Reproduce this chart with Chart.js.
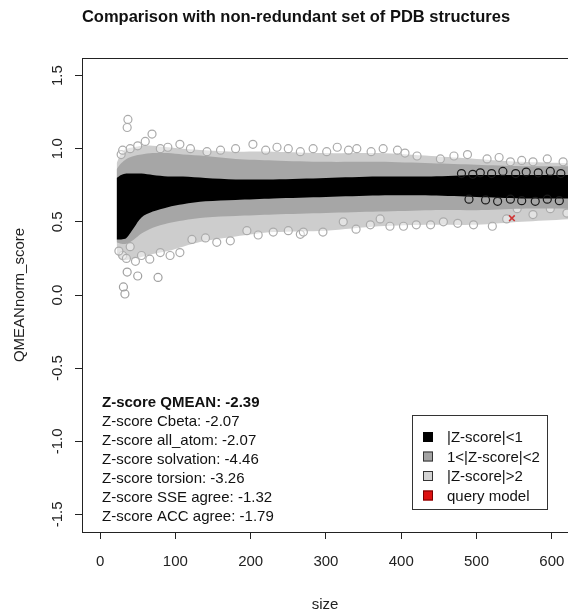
<!DOCTYPE html>
<html>
<head>
<meta charset="utf-8">
<script src="https://cdn.jsdelivr.net/npm/chart.js@4/dist/chart.umd.min.js"></script>
<style>
    html, body { margin: 0; padding: 0; background: #fff; overflow: hidden; }
    #wrap { width: 568px; height: 611px; }
</style>
</head>
<body>
<div id="wrap"><canvas id="qmeanChart" width="568" height="611"></canvas></div>
<script>
// Envelopes of the reference cloud (size -> QMEANnorm_score)
const sizeGrid = [22, 28, 35, 45, 55, 70, 90, 110, 140, 180, 230, 300, 370, 440, 500, 560, 630];
const outerHi  = [0.90, 0.97, 1.00, 1.01, 1.02, 1.02, 1.01, 1.00, 0.99, 0.98, 0.98, 0.97, 0.97, 0.95, 0.93, 0.91, 0.90];
const midHi    = [0.86, 0.90, 0.93, 0.95, 0.96, 0.97, 0.97, 0.96, 0.95, 0.93, 0.92, 0.91, 0.91, 0.90, 0.89, 0.88, 0.88];
const coreHi   = [0.80, 0.82, 0.83, 0.83, 0.83, 0.82, 0.81, 0.81, 0.80, 0.79, 0.79, 0.80, 0.81, 0.81, 0.82, 0.82, 0.82];
const coreLo   = [0.38, 0.38, 0.39, 0.46, 0.53, 0.57, 0.60, 0.62, 0.64, 0.65, 0.66, 0.67, 0.68, 0.68, 0.67, 0.66, 0.66];
const midLo    = [0.36, 0.35, 0.35, 0.38, 0.42, 0.46, 0.49, 0.51, 0.53, 0.54, 0.55, 0.56, 0.57, 0.58, 0.58, 0.59, 0.59];
const outerLo  = [0.28, 0.24, 0.24, 0.25, 0.26, 0.28, 0.30, 0.33, 0.37, 0.40, 0.43, 0.44, 0.47, 0.48, 0.48, 0.50, 0.52];

// Single circles visible along the edges of the cloud
const ringSize = [37, 36, 69, 60, 106, 40, 80, 142, 203, 235, 266, 283, 301, 315, 341, 376, 421, 452, 488, 514, 545, 575, 594, 615,
                  50, 90, 120, 160, 180, 220, 250, 330, 360, 395, 405, 470, 530, 560, 28, 30,
                  40, 47, 66, 93, 106, 122, 155, 173, 195, 230, 266, 296, 270, 323, 359, 372, 403, 439, 456, 496, 521, 554, 575, 598,
                  30, 35, 55, 80, 140, 210, 250, 340, 385, 420, 475, 540, 620, 25];
const ringScore = [1.20, 1.145, 1.10, 1.05, 1.03, 1.00, 1.00, 0.98, 1.03, 1.01, 0.98, 1.00, 0.98, 1.01, 1.00, 1.00, 0.95, 0.93, 0.96, 0.93, 0.91, 0.91, 0.93, 0.91,
                   1.02, 1.01, 1.00, 0.99, 1.00, 0.99, 1.00, 0.99, 0.98, 0.99, 0.97, 0.95, 0.94, 0.92, 0.96, 0.99,
                   0.33, 0.23, 0.245, 0.27, 0.29, 0.38, 0.36, 0.37, 0.44, 0.43, 0.415, 0.43, 0.43, 0.50, 0.48, 0.52, 0.47, 0.48, 0.50, 0.48, 0.47, 0.59, 0.55, 0.59,
                   0.27, 0.25, 0.27, 0.29, 0.39, 0.41, 0.44, 0.45, 0.47, 0.48, 0.49, 0.52, 0.56, 0.30];

// Loose dark circles where the core thins out at large sizes
const darkRingSize  = [480, 495, 505, 520, 535, 552, 566, 582, 598, 612, 490, 512, 528, 545, 560, 578, 594, 610];
const darkRingScore = [0.83, 0.825, 0.835, 0.83, 0.845, 0.83, 0.84, 0.835, 0.845, 0.83, 0.655, 0.65, 0.64, 0.655, 0.645, 0.64, 0.655, 0.645];

// Low outliers at small sizes
const outlierSize  = [36, 31, 33, 50, 77];
const outlierScore = [0.157, 0.055, 0.007, 0.13, 0.12];

// The query model
const querySize  = [547];
const queryScore = [0.525];

const xTicks = [0, 100, 200, 300, 400, 500, 600];
const yTicks = [-1.5, -1.0, -0.5, 0.0, 0.5, 1.0, 1.5];

const zScoreLines = [
    'Z-score QMEAN: -2.39',
    'Z-score Cbeta: -2.07',
    'Z-score all_atom: -2.07',
    'Z-score solvation: -4.46',
    'Z-score torsion: -3.26',
    'Z-score SSE agree: -1.32',
    'Z-score ACC agree: -1.79'
];
const legendLabels = ['|Z-score|<1', '1<|Z-score|<2', '|Z-score|>2', 'query model'];
const legendColors = ['#000000', '#a3a3a3', '#d3d3d3', '#dd1111'];

const FONT = '"Liberation Sans", Arial, Helvetica, sans-serif';
const LIGHT = '#cdcdcd';
const MID = '#a6a6a6';

function pts(xs, ys) {
    return xs.map((x, i) => ({ x: x, y: ys[i] }));
}

function band(values, fillTarget, color, order) {
    return {
        data: pts(sizeGrid, values),
        fill: fillTarget,
        backgroundColor: color,
        borderWidth: 0,
        borderColor: 'rgba(0,0,0,0)',
        pointRadius: 0,
        tension: 0.3,
        order: order
    };
}

function rings(xs, ys, stroke, fill, order) {
    return {
        data: pts(xs, ys),
        showLine: false,
        pointStyle: 'circle',
        pointRadius: 4,
        pointBorderWidth: 1.2,
        pointBorderColor: stroke,
        pointBackgroundColor: fill,
        order: order
    };
}

// Title, boxed frame top, rotated y tick labels, z-score text and legend box
const decorPlugin = {
    id: 'decor',
    afterDraw(chart) {
        const ctx = chart.ctx;
        const area = chart.chartArea;
        const yScale = chart.scales.y;
        ctx.save();

        // frame top
        ctx.strokeStyle = '#222';
        ctx.lineWidth = 1;
        ctx.beginPath();
        ctx.moveTo(area.left, area.top + 0.5);
        ctx.lineTo(area.right, area.top + 0.5);
        ctx.stroke();

        // title
        ctx.fillStyle = '#111';
        ctx.font = 'bold 16.5px ' + FONT;
        ctx.textAlign = 'center';
        ctx.textBaseline = 'middle';
        ctx.fillText('Comparison with non-redundant set of PDB structures', area.left + 214, 17);

        // y tick labels, parallel to the axis
        ctx.font = '15px ' + FONT;
        ctx.fillStyle = '#222';
        yTicks.forEach(v => {
            const py = yScale.getPixelForValue(v);
            ctx.save();
            ctx.translate(area.left - 24, py);
            ctx.rotate(-Math.PI / 2);
            ctx.fillText(v.toFixed(1), 0, 0);
            ctx.restore();
        });

        // z-score block
        ctx.textAlign = 'left';
        ctx.fillStyle = '#111';
        zScoreLines.forEach((line, i) => {
            ctx.font = (i === 0 ? 'bold ' : '') + '15px ' + FONT;
            ctx.fillText(line, area.left + 20, area.bottom - 129 + i * 19);
        });

        // legend box
        const lx = area.left + 330;
        const ly = area.bottom - 117;
        ctx.strokeStyle = '#333';
        ctx.strokeRect(lx + 0.5, ly + 0.5, 135, 94);
        ctx.font = '15px ' + FONT;
        legendLabels.forEach((label, i) => {
            const cy = ly + 22 + i * 19.5;
            ctx.fillStyle = legendColors[i];
            ctx.fillRect(lx + 11, cy - 5, 10, 10);
            if (i > 0) {
                ctx.strokeStyle = i === 3 ? '#700' : '#333';
                ctx.strokeRect(lx + 11.5, cy - 4.5, 9, 9);
            }
            ctx.fillStyle = '#111';
            ctx.fillText(label, lx + 35, cy + 1);
        });

        ctx.restore();
    }
};

const ctx = document.getElementById('qmeanChart').getContext('2d');

new Chart(ctx, {
    type: 'line',
    data: {
        datasets: [
            band(outerHi, '+1', LIGHT, 10),
            band(outerLo, false, LIGHT, 10),
            band(midHi, '+1', MID, 8),
            band(midLo, false, MID, 8),
            band(coreHi, '+1', '#000000', 7),
            band(coreLo, false, '#000000', 7),
            rings(ringSize, ringScore, '#ababab', 'rgba(255,255,255,0.45)', 9),
            rings(outlierSize, outlierScore, '#a0a0a0', 'rgba(255,255,255,0)', 9),
            rings(darkRingSize, darkRingScore, '#1a1a1a', 'rgba(0,0,0,0)', 6),
            {
                data: pts(querySize, queryScore),
                showLine: false,
                pointStyle: 'crossRot',
                pointRadius: 4,
                pointBorderWidth: 1.5,
                pointBorderColor: '#d03535',
                order: 1
            }
        ]
    },
    options: {
        responsive: false,
        animation: false,
        devicePixelRatio: 1,
        layout: { autoPadding: false, padding: { top: 58, left: 0, right: 0, bottom: 0 } },
        plugins: {
            legend: { display: false },
            tooltip: { enabled: false },
            filler: { propagate: false }
        },
        scales: {
            x: {
                type: 'linear',
                min: -24,
                max: 621.5,
                afterBuildTicks: scale => { scale.ticks = xTicks.map(v => ({ value: v })); },
                afterFit: scale => {
                    scale.height = 79;
                    scale.paddingLeft = 0;
                    scale.paddingRight = 0;
                },
                grid: { drawOnChartArea: false, drawTicks: true, tickLength: 7, color: '#222' },
                border: { display: true, color: '#222', width: 1 },
                ticks: { color: '#222', font: { family: FONT, size: 15 }, padding: 14, maxRotation: 0 },
                title: { display: true, text: 'size', color: '#222', font: { family: FONT, size: 15 }, padding: { top: 0, bottom: -3 } }
            },
            y: {
                type: 'linear',
                min: -1.62,
                max: 1.62,
                afterBuildTicks: scale => { scale.ticks = yTicks.map(v => ({ value: v })); },
                afterFit: scale => { scale.width = 82; },
                grid: { drawOnChartArea: false, drawTicks: true, tickLength: 7, color: '#222' },
                border: { display: true, color: '#222', width: 1 },
                ticks: { display: false },
                title: { display: true, text: 'QMEANnorm_score', color: '#222', font: { family: FONT, size: 15 }, padding: { top: 11 } }
            }
        }
    },
    plugins: [decorPlugin]
});
</script>
</body>
</html>
